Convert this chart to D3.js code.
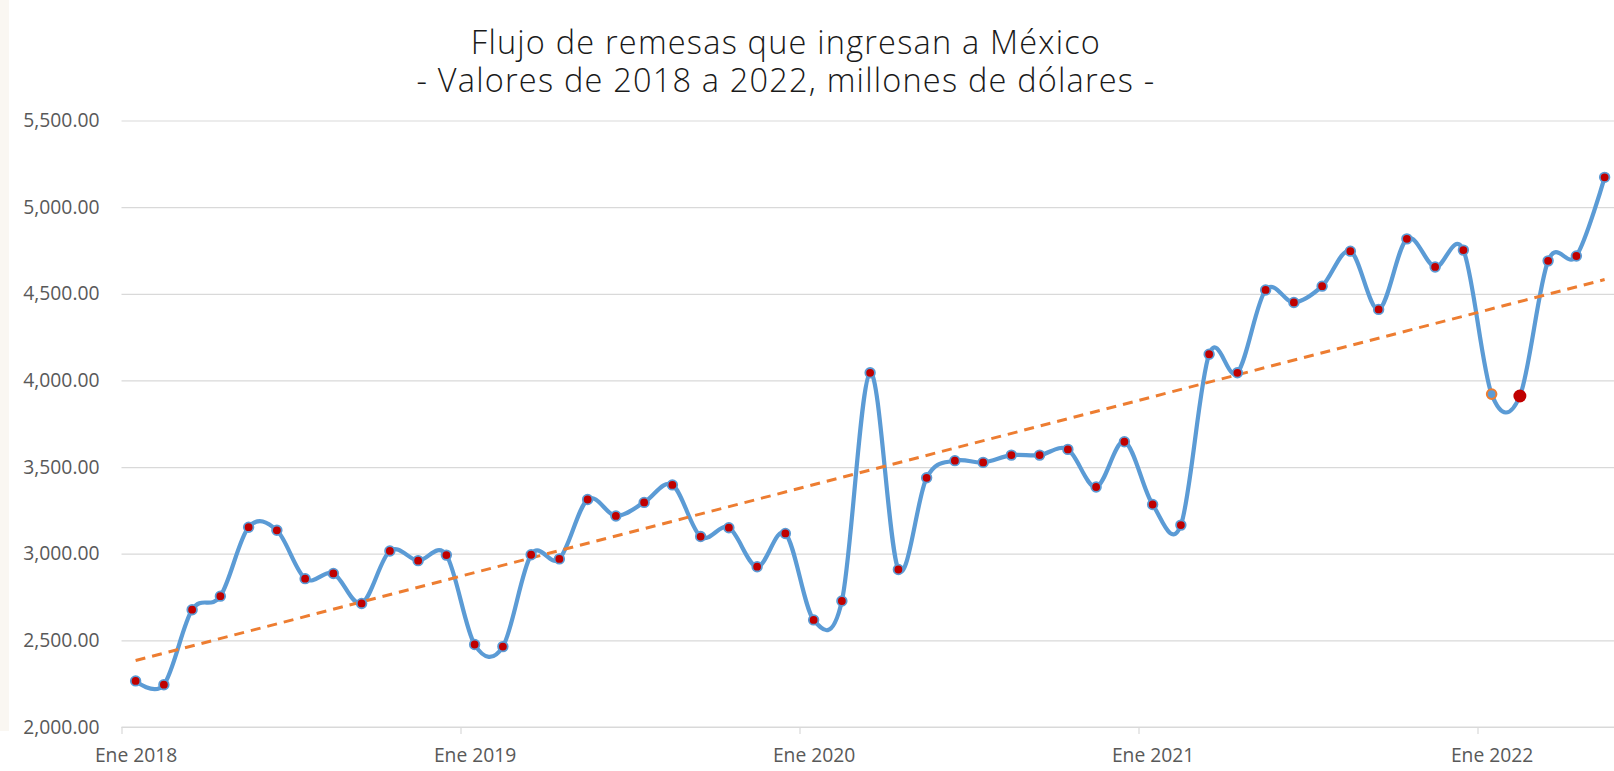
<!DOCTYPE html>
<html>
<head>
<meta charset="utf-8">
<script src="https://cdn.jsdelivr.net/npm/d3@7"></script>
<style>
  body { margin: 0; background: #fff; }
  svg { display: block; }
</style>
</head>
<body>
<div id="chart"></div>
<script>
// Datos: flujo mensual de remesas, millones de dolares (Ene 2018 - May 2022)
var mesesAbrev = ["Ene","Feb","Mar","Abr","May","Jun","Jul","Ago","Sep","Oct","Nov","Dic"];
var anios = [2018, 2019, 2020, 2021, 2022];

var remesas2018 = [2266, 2244, 2677, 2755, 3153, 3135, 2856, 2886, 2713, 3016, 2960, 2992];
var remesas2019 = [2476, 2464, 2994, 2970, 3313, 3218, 3296, 3397, 3099, 3150, 2925, 3117];
var remesas2020 = [2618, 2727, 4044, 2909, 3438, 3537, 3527, 3569, 3569, 3602, 3385, 3646];
var remesas2021 = [3284, 3165, 4151, 4044, 4522, 4450, 4544, 4746, 4410, 4817, 4655, 4752];
var remesas2022 = [3921, 3910, 4690, 4718, 5172];

var ticksY = [2000, 2500, 3000, 3500, 4000, 4500, 5000, 5500];
var etiquetasX = ["Ene 2018", "Ene 2019", "Ene 2020", "Ene 2021", "Ene 2022"];
var puntoHueco = "Ene 2022";   // marcador con borde naranja
var puntoGrande = "Feb 2022";  // marcador rojo resaltado

var titulos = ["Flujo de remesas que ingresan a México",
	"- Valores de 2018 a 2022, millones de dólares -"];

// Armar la serie
var remesas = remesas2018.concat(remesas2019, remesas2020, remesas2021, remesas2022);
var categorias = [];
anios.forEach(function(a) {
	mesesAbrev.forEach(function(m) { categorias.push(m + " " + a); });
});
categorias = categorias.slice(0, remesas.length);
var datos = remesas.map(function(v, i) { return {i: i, mes: categorias[i], valor: v}; });

// Tamano
var W = 1614, H = 771;
var plot = {left: 121.5, top: 120.5, bottom: 727, step: 28.25};

var svg = d3.select("#chart").append("svg")
	.attr("width", W)
	.attr("height", H);

// tira beige muy tenue en el borde izquierdo
svg.append("rect").attr("x", 0).attr("y", 0).attr("width", 9).attr("height", H - 40)
	.attr("fill", "#faf7f2");

var x = d3.scaleLinear()
	.domain([0, datos.length])
	.range([plot.left, plot.left + datos.length * plot.step]);
var y = d3.scaleLinear()
	.domain([2000, 5500])
	.range([plot.bottom, plot.top]);

var fuenteEje = "'Open Sans', sans-serif";

// Lineas de cuadricula y eje Y
var ejeY = svg.append("g")
	.attr("transform", "translate(" + plot.left + ",0)")
	.call(d3.axisLeft(y).tickValues(ticksY).tickFormat(d3.format(",.2f"))
		.tickSize(-(W - plot.left)).tickPadding(22));
ejeY.select(".domain").remove();
ejeY.selectAll(".tick line").attr("stroke", "#d9d9d9").attr("stroke-width", 1.2);
ejeY.selectAll(".tick text")
	.attr("fill", "#595959")
	.style("font-family", fuenteEje)
	.style("font-size", "19.3px");

// Eje X: marca en el borde del mes, etiqueta centrada en el mes
var ticksXIdx = etiquetasX.map(function(e) { return categorias.indexOf(e); });
var ejeX = svg.append("g")
	.attr("transform", "translate(0," + plot.bottom + ")")
	.call(d3.axisBottom(x).tickValues(ticksXIdx)
		.tickFormat(function(i) { return categorias[i]; })
		.tickSize(7).tickPadding(14));
ejeX.select(".domain").attr("stroke", "#d9d9d9").attr("stroke-width", 1.2)
	.attr("d", "M" + plot.left + ",0H" + W);
ejeX.selectAll(".tick line").attr("stroke", "#d9d9d9").attr("stroke-width", 1.2);
ejeX.selectAll(".tick text")
	.attr("x", plot.step / 2)
	.attr("fill", "#595959")
	.style("font-family", fuenteEje)
	.style("font-size", "19.3px");

// Linea de tendencia (minimos cuadrados)
var n = datos.length;
var mx = d3.mean(datos, function(d) { return d.i; });
var my = d3.mean(datos, function(d) { return d.valor; });
var pend = d3.sum(datos, function(d) { return (d.i - mx) * (d.valor - my); }) /
	d3.sum(datos, function(d) { return (d.i - mx) * (d.i - mx); });
var inter = my - pend * mx;
var tendencia = [0, n - 1].map(function(i) { return {i: i, valor: inter + pend * i}; });

// Serie suavizada
var linea = d3.line()
	.x(function(d) { return x(d.i + 0.5); })
	.y(function(d) { return y(d.valor); })
	.curve(d3.curveCardinal.tension(0));

svg.append("path")
	.datum(datos)
	.attr("fill", "none")
	.attr("stroke", "#5b9bd5")
	.attr("stroke-width", 4.2)
	.attr("stroke-linejoin", "round")
	.attr("stroke-linecap", "round")
	.attr("d", linea);

svg.append("path")
	.datum(tendencia)
	.attr("fill", "none")
	.attr("stroke", "#ed7d31")
	.attr("stroke-width", 3)
	.attr("stroke-dasharray", "10,7")
	.attr("d", d3.line()
		.x(function(d) { return x(d.i + 0.5); })
		.y(function(d) { return y(d.valor); }));

// Marcadores
svg.append("g").selectAll("circle")
	.data(datos)
	.enter()
	.append("circle")
	.attr("cx", function(d) { return x(d.i + 0.5); })
	.attr("cy", function(d) { return y(d.valor); })
	.attr("r", function(d) { return d.mes === puntoGrande ? 6.5 : 4.8; })
	.attr("fill", function(d) { return d.mes === puntoHueco ? "#5b9bd5" : "#c00000"; })
	.attr("stroke", function(d) {
		if (d.mes === puntoHueco) return "#ed7d31";
		if (d.mes === puntoGrande) return "none";
		return "#5b9bd5";
	})
	.attr("stroke-width", function(d) { return d.mes === puntoHueco ? 2 : 1.8; });

// Titulo (dos lineas)
svg.selectAll(".titulo")
	.data(titulos)
	.enter()
	.append("text")
	.attr("class", "titulo")
	.attr("x", 786)
	.attr("y", function(d, i) { return 54 + i * 38; })
	.attr("text-anchor", "middle")
	.attr("fill", "#1a1a1a")
	.style("font-family", "'Open Sans', sans-serif")
	.style("font-weight", 300)
	.style("font-size", "32.5px")
	.style("letter-spacing", "1.2px")
	.text(function(d) { return d; });
</script>
</body>
</html>
